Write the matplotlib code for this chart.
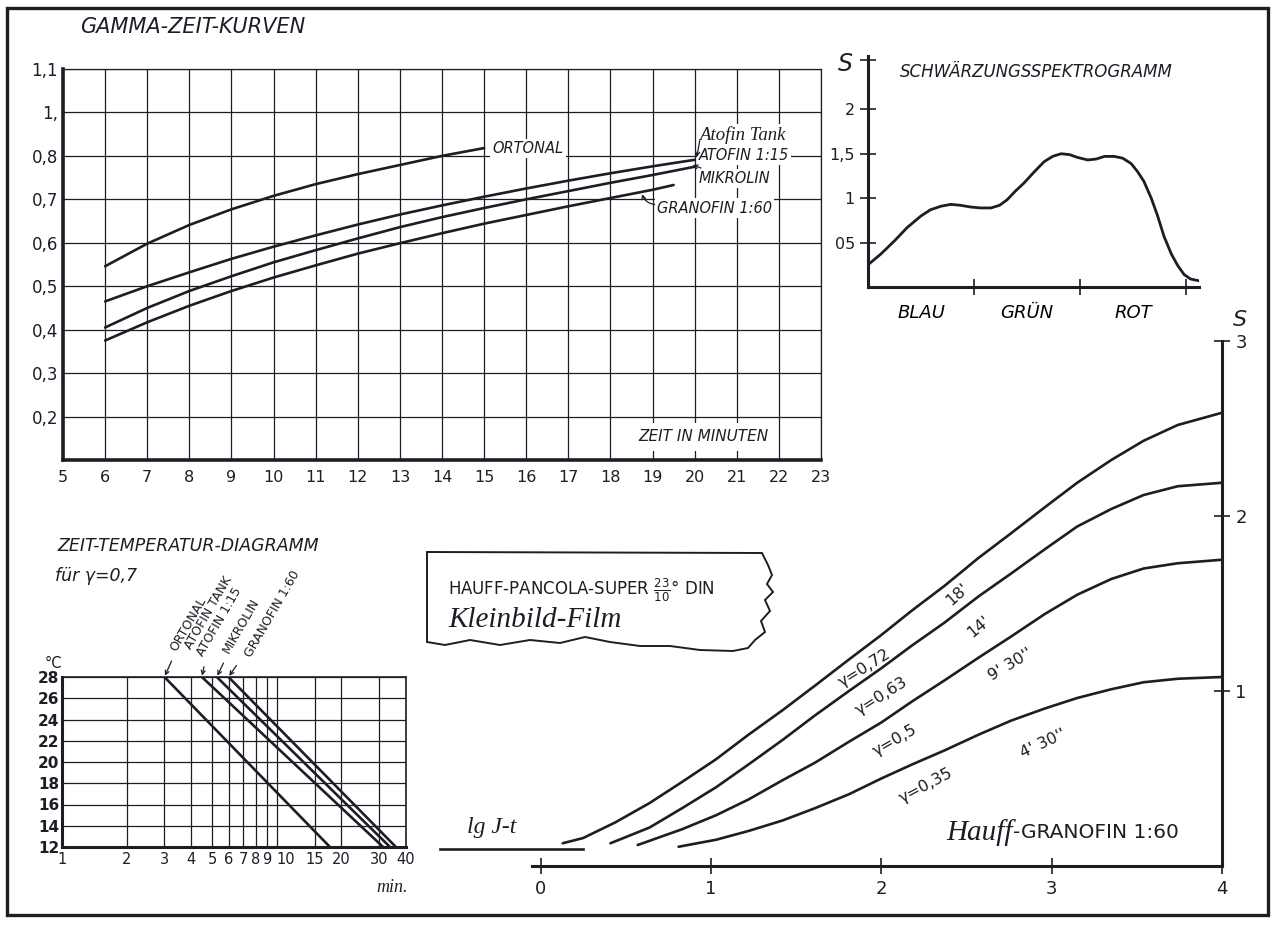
import numpy as np
import matplotlib
matplotlib.use('Agg')
import matplotlib.pyplot as plt
from matplotlib.patches import Rectangle, Polygon

plt.rcParams['font.family'] = ['DejaVu Sans']
plt.rcParams['mathtext.fontset'] = 'dejavusans'

INK = '#1c1e26'
W, H = 1273, 925

# --- Gamma-Zeit-Kurven ---
gz_x_ticks = list(range(5, 24))
gz_y_ticks = [0.1, 0.2, 0.3, 0.4, 0.5, 0.6, 0.7, 0.8, 0.9, 1.0]
gz_y_labels = ['', '0,2', '0,3', '0,4', '0,5', '0,6', '0,7', '0,8', '1,', '1,1']

ortonal_t = [6, 7, 8, 9, 10, 11, 12, 13, 14, 15]
ortonal_g = [0.546, 0.598, 0.641, 0.677, 0.708, 0.735, 0.758, 0.779, 0.800, 0.818]
atofin_t = [6, 7, 8, 9, 10, 11, 12, 13, 14, 15, 16, 17, 18, 19, 20]
atofin_g = [0.465, 0.500, 0.532, 0.563, 0.591, 0.617, 0.642, 0.665, 0.686, 0.706,
            0.725, 0.743, 0.760, 0.776, 0.791]
mikrolin_t = [6, 7, 8, 9, 10, 11, 12, 13, 14, 15, 16, 17, 18, 19, 20]
mikrolin_g = [0.405, 0.450, 0.489, 0.523, 0.555, 0.583, 0.610, 0.636, 0.659, 0.680,
              0.700, 0.719, 0.738, 0.756, 0.775]
granofin_t = [6, 7, 8, 9, 10, 11, 12, 13, 14, 15, 16, 17, 18, 19, 19.5]
granofin_g = [0.375, 0.417, 0.455, 0.489, 0.520, 0.548, 0.575, 0.599, 0.622, 0.644,
              0.664, 0.684, 0.703, 0.722, 0.733]

# --- Schwaerzungsspektrogramm ---
spec_x = [0.01, 0.12, 0.25, 0.37, 0.50, 0.59, 0.69, 0.78, 0.87, 0.97, 1.06, 1.16, 1.24,
          1.31, 1.39, 1.47, 1.57, 1.66, 1.74, 1.82, 1.90, 1.97, 2.07, 2.15, 2.23, 2.32,
          2.40, 2.48, 2.54, 2.60, 2.67, 2.73, 2.79, 2.86, 2.92, 2.98, 3.04, 3.12]
spec_s = [0.26, 0.37, 0.52, 0.67, 0.80, 0.87, 0.91, 0.93, 0.92, 0.90, 0.89, 0.89, 0.92,
          0.98, 1.08, 1.17, 1.30, 1.41, 1.47, 1.50, 1.49, 1.46, 1.43, 1.44, 1.47, 1.47,
          1.45, 1.39, 1.30, 1.19, 1.00, 0.80, 0.57, 0.37, 0.24, 0.14, 0.09, 0.07]
spec_bands = ['BLAU', 'GRÜN', 'ROT']
spec_y_ticks = [0.5, 1.0, 1.5, 2.0, 2.55]
spec_y_labels = ['05', '1', '1,5', '2', '']

# --- Zeit-Temperatur-Diagramm (gamma 0,7) ---
zt_temp = [28, 12]
zt_names = ['ORTONAL', 'ATOFIN TANK\nATOFIN 1:15', 'MIKROLIN', 'GRANOFIN 1:60']
zt_times = [[3.0, 17.7], [4.48, 31.3], [5.26, 33.7], [5.96, 35.9]]
zt_x_ticks = [1, 2, 3, 4, 5, 6, 7, 8, 9, 10, 15, 20, 30, 40]
zt_y_ticks = [12, 14, 16, 18, 20, 22, 24, 26, 28]

# --- Schwaerzungskurven Granofin 1:60 ---
c72_x = [0.13, 0.25, 0.44, 0.64, 0.83, 1.03, 1.22, 1.42, 1.61, 1.81, 2.00, 2.18, 2.37,
         2.57, 2.76, 2.96, 3.15, 3.35, 3.54, 3.74, 4.00]
c72_s = [0.13, 0.16, 0.25, 0.36, 0.48, 0.61, 0.75, 0.89, 1.03, 1.18, 1.32, 1.46, 1.60,
         1.76, 1.90, 2.05, 2.19, 2.32, 2.43, 2.52, 2.59]
c63_x = [0.41, 0.64, 0.83, 1.03, 1.22, 1.42, 1.61, 1.81, 2.00, 2.18, 2.37, 2.57, 2.76,
         2.96, 3.15, 3.35, 3.54, 3.74, 4.00]
c63_s = [0.13, 0.22, 0.33, 0.45, 0.58, 0.72, 0.86, 1.00, 1.13, 1.26, 1.39, 1.54, 1.67,
         1.81, 1.94, 2.04, 2.12, 2.17, 2.19]
c50_x = [0.57, 0.83, 1.03, 1.22, 1.42, 1.61, 1.81, 2.00, 2.18, 2.37, 2.57, 2.76, 2.96,
         3.15, 3.35, 3.54, 3.74, 4.00]
c50_s = [0.12, 0.21, 0.29, 0.38, 0.49, 0.59, 0.71, 0.82, 0.94, 1.06, 1.19, 1.31, 1.44,
         1.55, 1.64, 1.70, 1.73, 1.75]
c35_x = [0.81, 1.03, 1.22, 1.42, 1.61, 1.81, 2.00, 2.18, 2.37, 2.57, 2.76, 2.96, 3.15,
         3.35, 3.54, 3.74, 4.00]
c35_s = [0.11, 0.15, 0.20, 0.26, 0.33, 0.41, 0.50, 0.58, 0.66, 0.75, 0.83, 0.90, 0.96,
         1.01, 1.05, 1.07, 1.08]
fog_x = [-0.59, 0.25]
fog_s = [0.10, 0.10]
gamma_labels = ['γ=0,72', 'γ=0,63', 'γ=0,5', 'γ=0,35']
time_labels = ["18'", "14'", "9' 30''", "4' 30''"]


def px_axes(x0, y0, x1, y1):
    return fig.add_axes([x0 / W, 1 - y1 / H, (x1 - x0) / W, (y1 - y0) / H])


def fp(px, py):
    return (px / W, 1 - py / H)


fig = plt.figure(figsize=(W / 100, H / 100), dpi=100)
fig.patch.set_facecolor('white')

# outer frame
fig.patches.append(Rectangle((7 / W, 1 - 915 / H), 1261 / W, 907 / H, transform=fig.transFigure,
                             fill=False, lw=2.4, ec=INK))

# ---------------- panel 1 ----------------
ax1 = px_axes(63, 69, 821, 460)
ax1.set_facecolor('none')
ax1.set_xlim(5, 23)
ax1.set_ylim(0.1, 1.0)
ax1.set_xticks(gz_x_ticks)
ax1.set_yticks(gz_y_ticks, gz_y_labels)
ax1.grid(True, color=INK, lw=0.9)
ax1.set_axisbelow(True)
ax1.tick_params(length=0, colors=INK, labelsize=12)
ax1.tick_params(axis='x', pad=7, labelsize=11.5)
for s in ['left', 'bottom']:
    ax1.spines[s].set_linewidth(2.6)
for s in ['top', 'right']:
    ax1.spines[s].set_linewidth(0.9)
for s in ax1.spines.values():
    s.set_color(INK)

for t, g in [(ortonal_t, ortonal_g), (atofin_t, atofin_g),
             (mikrolin_t, mikrolin_g), (granofin_t, granofin_g)]:
    ax1.plot(t, g, color=INK, lw=1.9, solid_capstyle='round', solid_joinstyle='round')

wb = dict(facecolor='white', edgecolor='none', pad=1.5)
ax1.text(15.2, 0.818, 'ORTONAL', ha='left', va='center', fontsize=10.5, style='oblique',
         color=INK, bbox=wb)
ax1.text(20.1, 0.849, 'Atofin Tank', ha='left', va='center', fontsize=13.5, style='italic',
         family='Liberation Serif', color=INK, bbox=wb)
ax1.text(20.1, 0.800, 'ATOFIN 1:15', ha='left', va='center', fontsize=10.5, style='oblique',
         color=INK, bbox=wb)
ax1.text(20.1, 0.749, 'MIKROLIN', ha='left', va='center', fontsize=10.5, style='oblique',
         color=INK, bbox=wb)
ax1.text(19.1, 0.680, 'GRANOFIN 1:60', ha='left', va='center', fontsize=10.5, style='oblique',
         color=INK, bbox=wb)
ax1.text(20.2, 0.153, 'ZEIT IN MINUTEN', ha='center', va='center', fontsize=11, style='oblique',
         color=INK, bbox=dict(facecolor='white', edgecolor='none', pad=5))
arr = dict(arrowstyle='->', color=INK, lw=0.9, shrinkA=0, shrinkB=0, mutation_scale=7)
ax1.annotate('', xy=(20.05, 0.797), xytext=(20.12, 0.835), arrowprops=arr)
ax1.annotate('', xy=(19.95, 0.779), xytext=(20.15, 0.772), arrowprops=arr)
ax1.annotate('', xy=(18.75, 0.712), xytext=(19.05, 0.688),
             arrowprops=dict(arr, connectionstyle='arc3,rad=-0.3'))
fig.text(*fp(80, 27), 'GAMMA-ZEIT-KURVEN', ha='left', va='center', fontsize=15,
         style='oblique', color=INK)

# ---------------- panel 2 ----------------
ax2 = px_axes(868, 56, 1199, 287)
ax2.set_facecolor('none')
ax2.set_xlim(0, 3.12)
ax2.set_ylim(0, 2.6)
ax2.plot(spec_x, spec_s, color=INK, lw=2.0, solid_capstyle='round', solid_joinstyle='round')
ax2.set_xticks([1, 2, 3], ['', '', ''])
ax2.set_xticks([0.5, 1.5, 2.5], spec_bands, minor=True)
ax2.set_yticks(spec_y_ticks, spec_y_labels)
ax2.tick_params(direction='inout', length=12, width=1.2, colors=INK, labelsize=11.5)
ax2.tick_params(axis='x', which='minor', length=0, labelsize=13, pad=12)
for lab in ax2.get_xticklabels(minor=True):
    lab.set_style('oblique')
ax2.spines['top'].set_visible(False)
ax2.spines['right'].set_visible(False)
for s in ['left', 'bottom']:
    ax2.spines[s].set_linewidth(2.2)
    ax2.spines[s].set_color(INK)
fig.text(*fp(845, 64), 'S', ha='center', va='center', fontsize=17, style='oblique', color=INK)
fig.text(*fp(900, 72), 'SCHWÄRZUNGSSPEKTROGRAMM', ha='left', va='center', fontsize=12,
         style='oblique', color=INK)

# ---------------- panel 3 ----------------
ax3 = px_axes(62, 677, 406, 847)
ax3.set_facecolor('none')
ax3.set_xscale('log')
ax3.set_xlim(1, 40)
ax3.set_ylim(12, 28)
ax3.set_xticks(zt_x_ticks, [str(v) for v in zt_x_ticks])
ax3.xaxis.set_minor_locator(matplotlib.ticker.NullLocator())
ax3.set_yticks(zt_y_ticks)
ax3.grid(True, color=INK, lw=0.9)
ax3.set_axisbelow(True)
ax3.tick_params(length=0, colors=INK, labelsize=11)
ax3.tick_params(axis='x', labelsize=10.5)
ax3.tick_params(axis='y', pad=2)
for lab in ax3.get_yticklabels():
    lab.set_fontweight('bold')
for lab in ax3.get_xticklabels():
    if lab.get_text() == '10':
        lab.set_horizontalalignment('left')
for s in ax3.spines.values():
    s.set_color(INK)
    s.set_linewidth(1.2)
ax3.spines['left'].set_linewidth(2.2)
ax3.spines['bottom'].set_linewidth(2.2)
for times in zt_times:
    ax3.plot(times, zt_temp, color=INK, lw=1.9)

label_px = [(173, 650), (194, 652), (226, 652), (248, 656)]
for name, times, (lx, ly) in zip(zt_names, zt_times, label_px):
    ax3.annotate(name, xy=(times[0], 28), xycoords='data',
                 xytext=fp(lx, ly), textcoords='figure fraction',
                 rotation=60, rotation_mode='anchor', ha='left', va='center',
                 fontsize=9, color=INK, linespacing=1.0,
                 arrowprops=dict(arrowstyle='->', color=INK, lw=0.9, mutation_scale=7,
                                 shrinkA=4, shrinkB=1))
fig.text(*fp(57, 546), 'ZEIT-TEMPERATUR-DIAGRAMM', ha='left', va='center', fontsize=12.5,
         style='oblique', color=INK)
fig.text(*fp(55, 576), 'für γ=0,7', ha='left', va='center', fontsize=12.5,
         style='oblique', color=INK)
fig.text(*fp(45, 663), '°C', ha='left', va='center', fontsize=10.5, color=INK)
fig.text(*fp(392, 887), 'min.', ha='center', va='center', fontsize=13, style='italic',
         family='Liberation Serif', color=INK)

# ---------------- panel 4 ----------------
ax4 = px_axes(435, 341, 1222, 866)
ax4.set_facecolor('none')
ax4.set_xlim(-0.62, 4.0)
ax4.set_ylim(0, 3.0)
for cx, cs in [(c72_x, c72_s), (c63_x, c63_s), (c50_x, c50_s), (c35_x, c35_s)]:
    ax4.plot(cx, cs, color=INK, lw=1.9, solid_capstyle='round', solid_joinstyle='round')
ax4.plot(fog_x, fog_s, color=INK, lw=1.9)
ax4.spines['left'].set_visible(False)
ax4.spines['top'].set_visible(False)
ax4.spines['bottom'].set_bounds(-0.05, 4.0)
ax4.spines['right'].set_bounds(0, 3.0)
for s in ['bottom', 'right']:
    ax4.spines[s].set_linewidth(2.2)
    ax4.spines[s].set_color(INK)
ax4.yaxis.tick_right()
ax4.set_xticks([0, 1, 2, 3, 4])
ax4.set_yticks([1, 2, 3])
ax4.tick_params(direction='inout', length=12, width=1.2, colors=INK, labelsize=13)
ax4.tick_params(axis='x', pad=4)

g_pos = [(1.90, 1.13, 32), (2.00, 0.97, 32), (2.08, 0.72, 30), (2.26, 0.46, 28)]
t_pos = [(2.45, 1.55, 42), (2.57, 1.37, 40), (2.76, 1.15, 31), (2.95, 0.70, 25)]
for lab, (x, y, r) in zip(gamma_labels, g_pos):
    ax4.text(x, y, lab, rotation=r, ha='center', va='center', fontsize=11.5, color=INK,
             rotation_mode='anchor')
for lab, (x, y, r) in zip(time_labels, t_pos):
    ax4.text(x, y, lab, rotation=r, ha='center', va='center', fontsize=11.5, color=INK,
             rotation_mode='anchor')
fig.text(*fp(1013, 833), 'Hauff', ha='right', va='center', fontsize=21, style='italic',
         family='Liberation Serif', color=INK)
fig.text(*fp(1013, 833), '-GRANOFIN 1:60', ha='left', va='center', fontsize=14.5, color=INK)
fig.text(*fp(492, 828), 'lg J-t', ha='center', va='center', fontsize=17, style='italic',
         family='Liberation Serif', color=INK)
fig.text(*fp(1240, 320), 'S', ha='center', va='center', fontsize=16, style='oblique', color=INK)

# film label card with torn edge
card = [(427, 552), (762, 553), (768, 565), (772, 575), (767, 584), (773, 592), (765, 600),
        (770, 611), (761, 621), (765, 632), (755, 640), (748, 648), (733, 651), (700, 650),
        (670, 646), (640, 646), (610, 642), (585, 637), (560, 643), (530, 640), (500, 645),
        (470, 640), (445, 645), (427, 642)]
fig.patches.append(Polygon([fp(x, y) for x, y in card], closed=True, transform=fig.transFigure,
                           facecolor='white', edgecolor=INK, lw=1.4))
fig.text(*fp(448, 590), r'HAUFF-PANCOLA-SUPER $\frac{23}{10}$° DIN', ha='left', va='center',
         fontsize=12, color=INK)
fig.text(*fp(448, 620), 'Kleinbild-Film', ha='left', va='center', fontsize=21, style='italic',
         family='Liberation Serif', color=INK)

fig.savefig('out.png', dpi=100, facecolor='white')
